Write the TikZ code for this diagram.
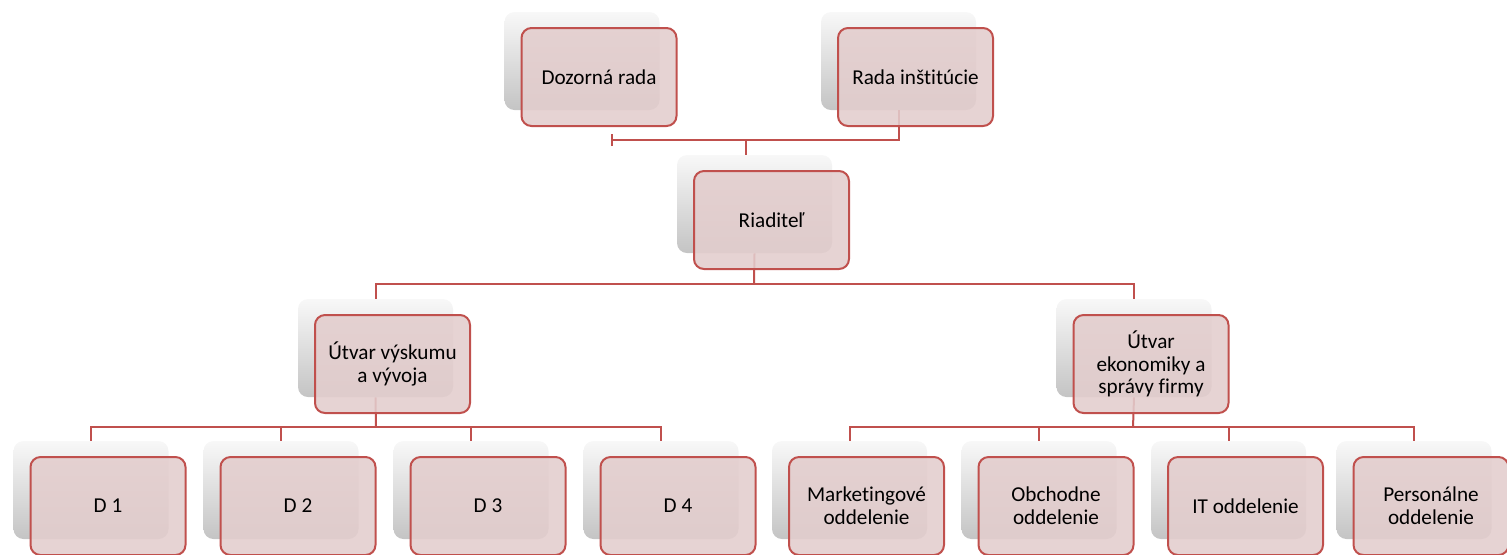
\documentclass[tikz,border=0pt]{standalone}
\usepackage{fontspec}
\setmainfont{Carlito}[Ligatures=NoCommon]
\usepackage{tikz}
\usetikzlibrary{arrows.meta,positioning}
\definecolor{boxred}{HTML}{C0504D}
\definecolor{boxfill}{HTML}{E3CDCD}
\definecolor{shadowtop}{HTML}{F8F8F8}
\definecolor{shadowbot}{HTML}{C4C4C4}
\pgfdeclarelayer{back}
\pgfdeclarelayer{mid}
\pgfsetlayers{back,mid,main}

% one org unit: grey card behind, red card in front
\newcommand{\orgbox}[4]{%
  \begin{pgfonlayer}{back}
    \node[backcard] (#1s) at (#2-17,#3-16) {};
  \end{pgfonlayer}
  \node[frontcard] (#1) at (#2,#3) {#4};
}

\begin{document}
\begin{tikzpicture}[
    x=0.5pt, y=-0.5pt,
    frontcard/.style={rectangle, rounded corners=5pt, draw=boxred, line width=1pt,
      fill=boxfill, fill opacity=0.88, text opacity=1, minimum width=77.5pt,
      minimum height=49pt, inner sep=2pt, align=center,
      font=\fontsize{10.6}{11.4}\selectfont},
    backcard/.style={rectangle, rounded corners=5pt, top color=shadowtop,
      bottom color=shadowbot, minimum width=77.5pt, minimum height=49pt},
    conn/.style={draw=boxred, line width=1pt}
]
\useasboundingbox (0,0) rectangle (1507,554);

\orgbox{dozor}{599}{77}{Dozorná rada}
\orgbox{rada}{915.5}{77}{Rada inštitúcie}
\orgbox{riad}{771.5}{220}{Riaditeľ}
\orgbox{vyskum}{392.5}{364}{Útvar výskumu\\a vývoja}
\orgbox{ekonom}{1151}{364}{Útvar\\ekonomiky a\\správy firmy}
\orgbox{d1}{108}{506}{D 1}
\orgbox{d2}{298}{506}{D 2}
\orgbox{d3}{488}{506}{D 3}
\orgbox{d4}{678}{506}{D 4}
\orgbox{market}{866.5}{506}{Marketingové\\oddelenie}
\orgbox{obchod}{1056}{506}{Obchodne\\oddelenie}
\orgbox{it}{1245.5}{506}{IT oddelenie}
\orgbox{person}{1431}{506}{Personálne\\oddelenie}

\coordinate (top) at (746,140);
\coordinate (busA) at (754,284);
\coordinate (busL) at (376,427);
\coordinate (busR) at (1133,427);

\begin{pgfonlayer}{mid}
\draw[conn, -{Bar[width=6pt]}] (radas.south) |- (611,140);
\draw[conn] (top) -- (top |- riads.north);
\draw[conn] (riads.south) -- (busA);
\draw[conn] (vyskums.north) |- (busA) -| (ekonoms.north);
\draw[conn] (vyskums.south) -- (busL);
\draw[conn] (d1s.north) |- (busL) -| (d4s.north);
\draw[conn] (d2s.north) -- (d2s.north |- busL);
\draw[conn] (d3s.north) -- (d3s.north |- busL);
\draw[conn] (ekonoms.south) -- (busR);
\draw[conn] (markets.north) |- (busR) -| (persons.north);
\draw[conn] (obchods.north) -- (obchods.north |- busR);
\draw[conn] (its.north) -- (its.north |- busR);
\end{pgfonlayer}
\end{tikzpicture}
\end{document}
